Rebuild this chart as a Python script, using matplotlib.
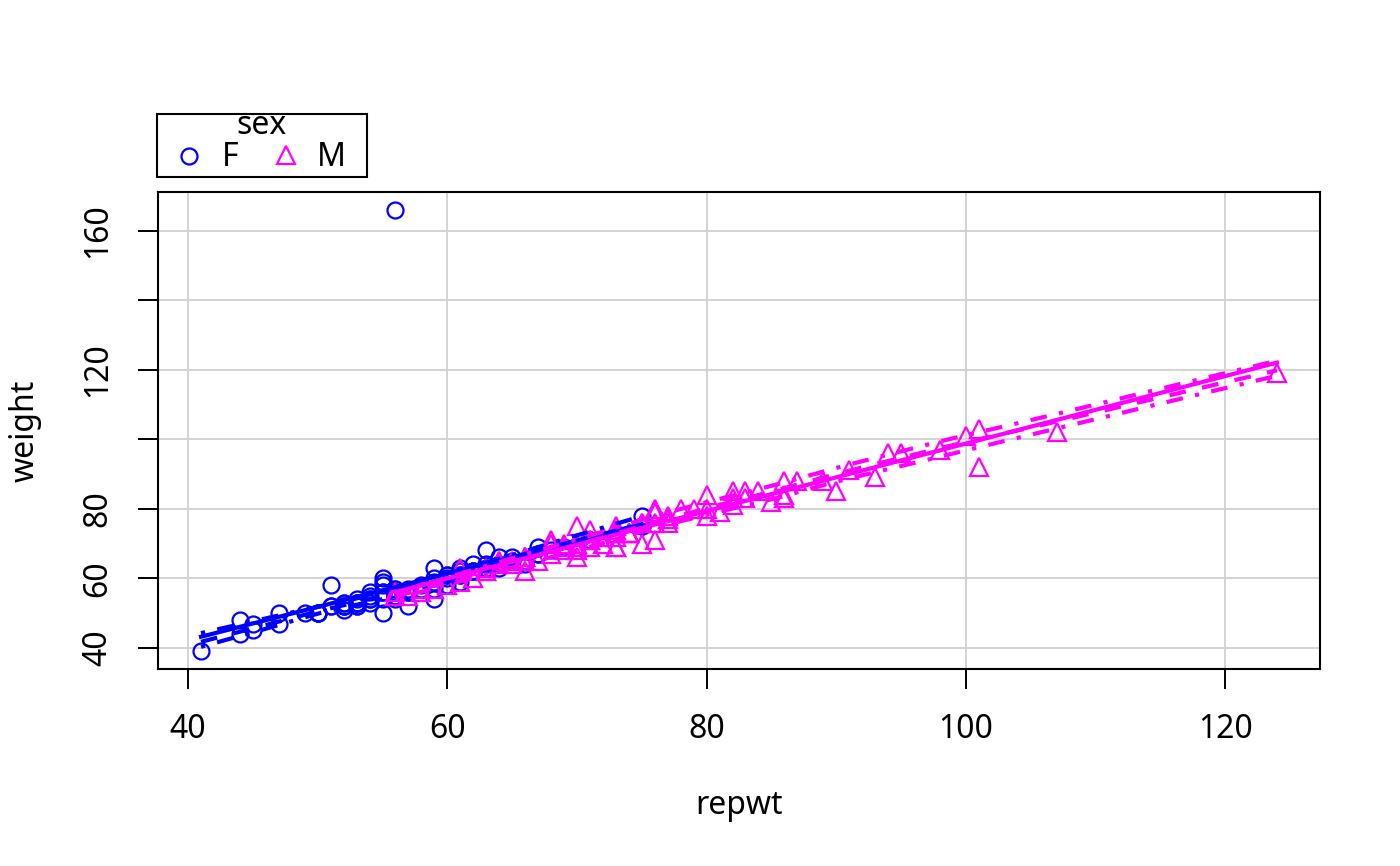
import numpy as np
import matplotlib
matplotlib.use('Agg')
import matplotlib.pyplot as plt
from matplotlib.lines import Line2D
from matplotlib.patches import Rectangle

plt.rcParams['font.family'] = ['Noto Sans', 'DejaVu Sans']

f_repwt = [51, 54, 59, 56, 52, 64, 57, 66, 62, 61, 61, 59, 50, 61, 60, 41, 71, 52, 63, 54,
           53, 59, 55, 56, 75, 57, 65, 75, 59, 63, 62, 51, 61, 54, 57, 50, 55, 64, 60, 52,
           55, 56, 53, 59, 56, 56, 57, 50, 52, 56, 56, 45, 62, 53, 53, 57, 55, 56, 67, 62,
           75, 67, 68, 67, 52, 71, 52, 50, 51, 44, 55, 61, 64, 47, 69, 55, 56, 53, 56, 55,
           60, 47, 54, 54, 53, 53, 44, 45, 49, 58, 58, 60, 63, 65, 66]
f_weight = [58, 53, 59, 166, 51, 64, 52, 65, 62, 61, 61, 54, 50, 63, 58, 39, 71, 52, 68, 56,
            54, 63, 54, 54, 75, 56, 66, 78, 60, 64, 64, 52, 62, 55, 56, 50, 50, 63, 61, 53,
            60, 56, 53, 57, 57, 56, 56, 50, 52, 55, 55, 45, 62, 53, 52, 57, 59, 55, 67, 62,
            75, 69, 68, 67, 53, 71, 52, 50, 52, 44, 56, 59, 66, 50, 69, 58, 57, 52, 56, 56,
            61, 47, 54, 54, 53, 53, 48, 47, 50, 57, 58, 60, 63, 65, 64]
m_repwt = [77, 70, 76, 77, 73, 71, 64, 75, 101, 75, 124, 66, 70, 100, 73, 76, 65, 69, 86, 67,
           80, 80, 82, 85, 73, 107, 64, 74, 70, 58, 69, 71, 76, 98, 76, 66, 70, 70, 56, 61,
           66, 70, 86, 71, 87, 101, 63, 64, 80, 76, 83, 94, 65, 77, 73, 63, 82, 61, 72, 63,
           73, 86, 73, 56, 95, 68, 74, 79, 82, 74, 81, 66, 59, 74, 75, 66, 93, 91, 90, 89,
           84, 68, 68, 69, 78, 58, 57, 62, 60, 83, 71, 72]
m_weight = [77, 68, 76, 76, 69, 71, 65, 70, 92, 76, 119, 65, 66, 101, 75, 79, 64, 69, 88, 65,
            80, 78, 85, 82, 74, 102, 65, 73, 75, 57, 68, 71, 71, 97, 80, 66, 69, 69, 55, 59,
            62, 70, 84, 69, 88, 103, 63, 64, 84, 79, 83, 96, 65, 78, 73, 62, 81, 63, 72, 62,
            72, 83, 69, 56, 96, 67, 73, 80, 83, 73, 79, 66, 57, 73, 76, 66, 89, 91, 85, 88,
            85, 70, 71, 70, 80, 56, 55, 60, 58, 85, 74, 70]

groups = ['F', 'M']
group_colors = ['#0000FF', '#FF00FF']
group_markers = ['o', '^']
x_ticks = [40, 60, 80, 100, 120]
y_ticks = [40, 60, 80, 100, 120, 140, 160]
y_tick_labels = ['40', '60', '80', '', '120', '', '160']


def loess(x, y, xs, span=2 / 3, degree=1, iters=4, prior_w=None):
    x = np.asarray(x, float)
    y = np.asarray(y, float)
    n = len(x)
    q = max(int(np.floor(n * span)), 2)
    base = np.ones(n) if prior_w is None else np.asarray(prior_w, float)
    rw = base.copy()

    def fit_at(x0, wr):
        d = np.abs(x - x0)
        h = max(np.sort(d)[q - 1], 1e-9)
        u = np.clip(d / h, 0, 1)
        w = (1 - u ** 3) ** 3 * wr
        if degree == 0 or np.sum(w > 0) < 3:
            return np.sum(w * y) / max(np.sum(w), 1e-12)
        X = np.column_stack([np.ones(n), x - x0])
        A = X.T @ (X * w[:, None])
        b = X.T @ (w * y)
        return np.linalg.lstsq(A, b, rcond=None)[0][0]

    for it in range(iters + 1):
        fitted = np.array([fit_at(xi, rw) for xi in x])
        res = y - fitted
        if it == iters:
            break
        s = max(np.median(np.abs(res)), 1e-9)
        u = res / (6 * s)
        rw = base * np.where(np.abs(u) < 1, (1 - u ** 2) ** 2, 0.0)
    ys = np.array([fit_at(x0, rw) for x0 in xs])
    return ys, res, rw


fig = plt.figure(figsize=(14, 8.66), dpi=100)
ax = fig.add_axes([158 / 1400, 1 - 669 / 866, (1320 - 158) / 1400, (669 - 192) / 866])

data = {'F': (f_repwt, f_weight), 'M': (m_repwt, m_weight)}
lw = 3.0
mew = 1.6
for g, col, mk in zip(groups, group_colors, group_markers):
    gx = np.asarray(data[g][0], float)
    gy = np.asarray(data[g][1], float)
    ms = 11.5 if mk == 'o' else 13
    ax.plot(gx, gy, linestyle='none', marker=mk, markersize=ms, mfc='none',
            mec=col, mew=mew, zorder=3)
    # regression line
    b, a = np.polyfit(gx, gy, 1)
    xr = np.array([gx.min(), gx.max()])
    ax.plot(xr, a + b * xr, color=col, lw=lw, zorder=4)
    # loess smooth and spread
    xs = np.linspace(gx.min(), gx.max(), 60)
    sm, res, rw = loess(gx, gy, xs)
    pos = res > 0
    pf, _, _ = loess(gx[pos], res[pos] ** 2, xs, degree=1, iters=0, prior_w=rw[pos])
    nf, _, _ = loess(gx[~pos], res[~pos] ** 2, xs, degree=1, iters=0, prior_w=rw[~pos])
    ax.plot(xs, sm, color=col, lw=lw, linestyle=(0, (4, 4)), zorder=4)
    ax.plot(xs, sm + np.sqrt(np.maximum(pf, 0)), color=col, lw=lw,
            linestyle=(0, (1, 3, 4, 3)), zorder=4)
    ax.plot(xs, sm - np.sqrt(np.maximum(nf, 0)), color=col, lw=lw,
            linestyle=(0, (1, 3, 4, 3)), zorder=4)

ax.set_xlim(37.68, 127.32)
ax.set_ylim(33.92, 171.08)
ax.set_xticks(x_ticks)
ax.set_xticklabels([str(t) for t in x_ticks])
ax.set_yticks(y_ticks)
ax.set_yticklabels(y_tick_labels, rotation=90, va='center')
ax.grid(True, color='#D3D3D3', lw=1.4)
ax.set_axisbelow(True)
for sp in ax.spines.values():
    sp.set_linewidth(1.5)
    sp.set_color('black')
ax.tick_params(direction='out', length=14.5, width=1.4, labelsize=23, pad=17, colors='black')

ax.set_xlabel('repwt', fontsize=23)
ax.xaxis.label.set_va('center')
ax.xaxis.set_label_coords(0.5, (669 - 805) / 477)
ax.set_ylabel('weight', fontsize=23)
ax.yaxis.label.set_va('center')
ax.yaxis.set_label_coords((25 - 158) / 1162, 0.5)

# legend (drawn above the plot region, like R's legend)
fig.add_artist(Rectangle((157 / 1400, 1 - 177 / 866), 210 / 1400, 63 / 866,
                         transform=fig.transFigure, fill=False, edgecolor='black', lw=1.5))
fig.text(262 / 1400, 1 - 125 / 866, 'sex', ha='center', va='center', fontsize=23)
fig.add_artist(Line2D([189 / 1400], [1 - 156 / 866], transform=fig.transFigure,
                      marker='o', markersize=11.5, mfc='none', mec=group_colors[0], mew=mew))
fig.add_artist(Line2D([286 / 1400], [1 - 155 / 866], transform=fig.transFigure,
                      marker='^', markersize=13, mfc='none', mec=group_colors[1], mew=mew))
fig.text(230 / 1400, 1 - 157 / 866, groups[0], ha='center', va='center', fontsize=23)
fig.text(331 / 1400, 1 - 157 / 866, groups[1], ha='center', va='center', fontsize=23)

fig.savefig('out.png', dpi=100, facecolor='white')
